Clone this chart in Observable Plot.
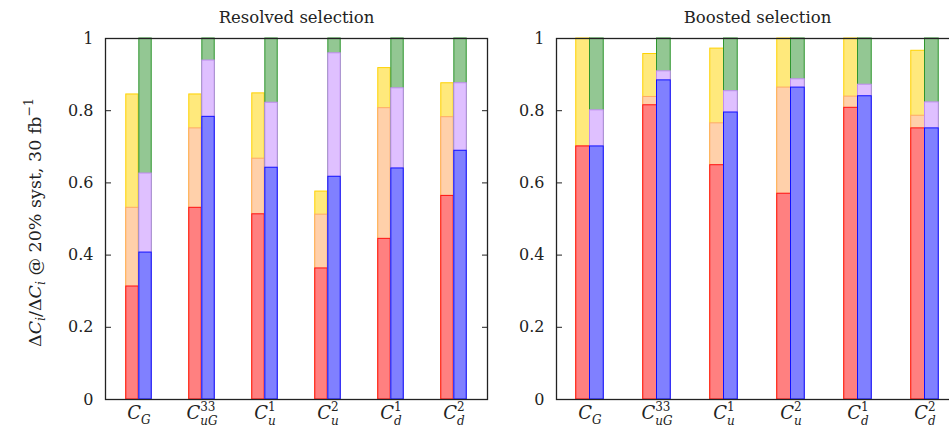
<!DOCTYPE html>
<html><head><meta charset="utf-8">
<script src="https://cdn.jsdelivr.net/npm/d3@7"></script>
<script src="https://cdn.jsdelivr.net/npm/@observablehq/plot@0.6"></script>
<style>
html,body{margin:0;padding:0;background:#fff;overflow:hidden}
#wrap{position:relative;width:949px;height:429px;overflow:hidden;background:#fff}
#wrap svg{position:absolute;top:0}
#wrap svg text{font-family:"DejaVu Serif", "Liberation Serif", serif !important}
</style></head><body><div id="wrap"></div>
<script>
// ---- data ----
const categories = ["CG", "CuG33", "Cu1", "Cu2", "Cd1", "Cd2"];
const tickLabels = {
  CG: {sub: "G"}, CuG33: {sub: "uG", sup: "33"}, Cu1: {sub: "u", sup: "1"},
  Cu2: {sub: "u", sup: "2"}, Cd1: {sub: "d", sup: "1"}, Cd2: {sub: "d", sup: "2"}
};
const yTicks = [0, 0.2, 0.4, 0.6, 0.8, 1];

const resolvedRed    = [0.313, 0.531, 0.513, 0.363, 0.445, 0.564];
const resolvedOrange = [0.531, 0.751, 0.667, 0.512, 0.807, 0.782];
const resolvedYellow = [0.845, 0.845, 0.848, 0.576, 0.918, 0.876];
const resolvedBlue   = [0.407, 0.783, 0.642, 0.617, 0.640, 0.689];
const resolvedPurple = [0.626, 0.939, 0.822, 0.959, 0.862, 0.876];
const resolvedGreen  = [1, 1, 1, 1, 1, 1];

const boostedRed    = [0.701, 0.815, 0.649, 0.570, 0.808, 0.751];
const boostedOrange = [0.701, 0.838, 0.765, 0.864, 0.839, 0.786];
const boostedYellow = [1.0, 0.957, 0.972, 1.0, 1.0, 0.966];
const boostedBlue   = [0.701, 0.884, 0.795, 0.864, 0.840, 0.751];
const boostedPurple = [0.801, 0.909, 0.854, 0.887, 0.872, 0.823];
const boostedGreen  = [1, 1, 1, 1, 1, 1];

// ---- style ----
const FONT = "DejaVu Serif";
const COL = {
  red:    {fill: "#ff8080", stroke: "#ff1010"},
  orange: {fill: "#ffd0aa", stroke: "#ffaa66"},
  yellow: {fill: "#ffe97c", stroke: "#ffd200"},
  blue:   {fill: "#8080ff", stroke: "#1010ff"},
  purple: {fill: "#dfc0ff", stroke: "#c08cf0"},
  green:  {fill: "#93c793", stroke: "#2e962e"}
};

function panel(o) {
  const plotW = o.width - o.marginLeft - o.marginRight;
  const step = plotW / categories.length;
  const bw = step * 0.205;
  const L = {insetLeft: step / 2 - bw, insetRight: step / 2};
  const R = {insetLeft: step / 2, insetRight: step / 2 - bw};
  const rows = categories.map((c, i) => ({c, i}));
  const bar = (vals, col, ins) => Plot.barY(rows, {
    x: "c", y1: 0, y2: d => vals[d.i], fill: col.fill, stroke: col.stroke, strokeWidth: 1, ...ins
  });
  const marks = [
    bar(o.yellow, COL.yellow, L), bar(o.orange, COL.orange, L), bar(o.red, COL.red, L),
    bar(o.green, COL.green, R), bar(o.purple, COL.purple, R), bar(o.blue, COL.blue, R),
    Plot.axisY({ticks: yTicks, tickSize: 0, tickPadding: 12, fontSize: 16, label: null, tickFormat: d => String(d)}),
    Plot.axisY({ticks: yTicks, tickSize: -6, tickFormat: () => "", label: null}),
    Plot.axisY({ticks: yTicks, anchor: "right", tickSize: -6, tickFormat: () => "", label: null}),
    Plot.axisX({tickSize: 0, tickPadding: 7, fontSize: 18, label: null}),
    Plot.frame({stroke: "#222", strokeWidth: 1.3}),
    Plot.text([o.title], {frameAnchor: "top", text: d => d, dy: -16, lineAnchor: "bottom", fontSize: 16.5, fill: "#222"})
  ];
  const svg = Plot.plot({
    width: o.width, height: 429,
    marginLeft: o.marginLeft, marginRight: o.marginRight, marginTop: 38, marginBottom: 30,
    style: {fontFamily: FONT, fontSize: "16px", color: "#222", background: "transparent", overflow: "visible"},
    x: {type: "band", domain: categories, padding: 0, axis: null},
    y: {domain: [0, 1], axis: null},
    marks
  });
  // math tick labels
  d3.select(svg).selectAll('g[aria-label="x-axis tick label"] text').each(function () {
    const key = this.textContent.trim();
    const spec = tickLabels[key];
    if (!spec) return;
    const t = d3.select(this);
    t.text("");
    t.append("tspan").attr("font-style", "italic").text("C");
    if (spec.sup) {
      t.append("tspan").attr("font-size", 12).attr("dy", -8).text(spec.sup);
      t.append("tspan").attr("font-style", "italic").attr("font-size", 12)
        .attr("dx", -spec.sup.length * 7.6).attr("dy", 14).text(spec.sub);
    } else {
      t.append("tspan").attr("font-style", "italic").attr("font-size", 12).attr("dy", 5).text(spec.sub);
    }
  });
  svg.style.left = o.left + "px";
  return svg;
}

const wrap = document.getElementById("wrap");
const left = panel({
  title: "Resolved selection", left: 0, width: 500, marginLeft: 105, marginRight: 13,
  red: resolvedRed, orange: resolvedOrange, yellow: resolvedYellow,
  blue: resolvedBlue, purple: resolvedPurple, green: resolvedGreen
});
const right = panel({
  title: "Boosted selection", left: 500, width: 470, marginLeft: 56, marginRight: 12,
  red: boostedRed, orange: boostedOrange, yellow: boostedYellow,
  blue: boostedBlue, purple: boostedPurple, green: boostedGreen
});
wrap.appendChild(left);
wrap.appendChild(right);

// y-axis label
const yl = d3.select(left).append("text")
  .attr("text-anchor", "start").attr("font-size", 17.5).attr("fill", "#222")
  .attr("font-family", FONT)
  .attr("transform", "translate(41,347) rotate(-90)");
yl.append("tspan").text("Δ");
yl.append("tspan").attr("font-style", "italic").text("C");
yl.append("tspan").attr("font-style", "italic").attr("font-size", 12.5).attr("dy", 4).text("i");
yl.append("tspan").attr("dy", -4).text("/Δ");
yl.append("tspan").attr("font-style", "italic").text("C");
yl.append("tspan").attr("font-style", "italic").attr("font-size", 12.5).attr("dy", 4).text("i");
yl.append("tspan").attr("dy", -4).text(" @ 20% syst, 30 fb");
yl.append("tspan").attr("font-size", 12.5).attr("dy", -8).text("−1");
</script>
</body></html>
